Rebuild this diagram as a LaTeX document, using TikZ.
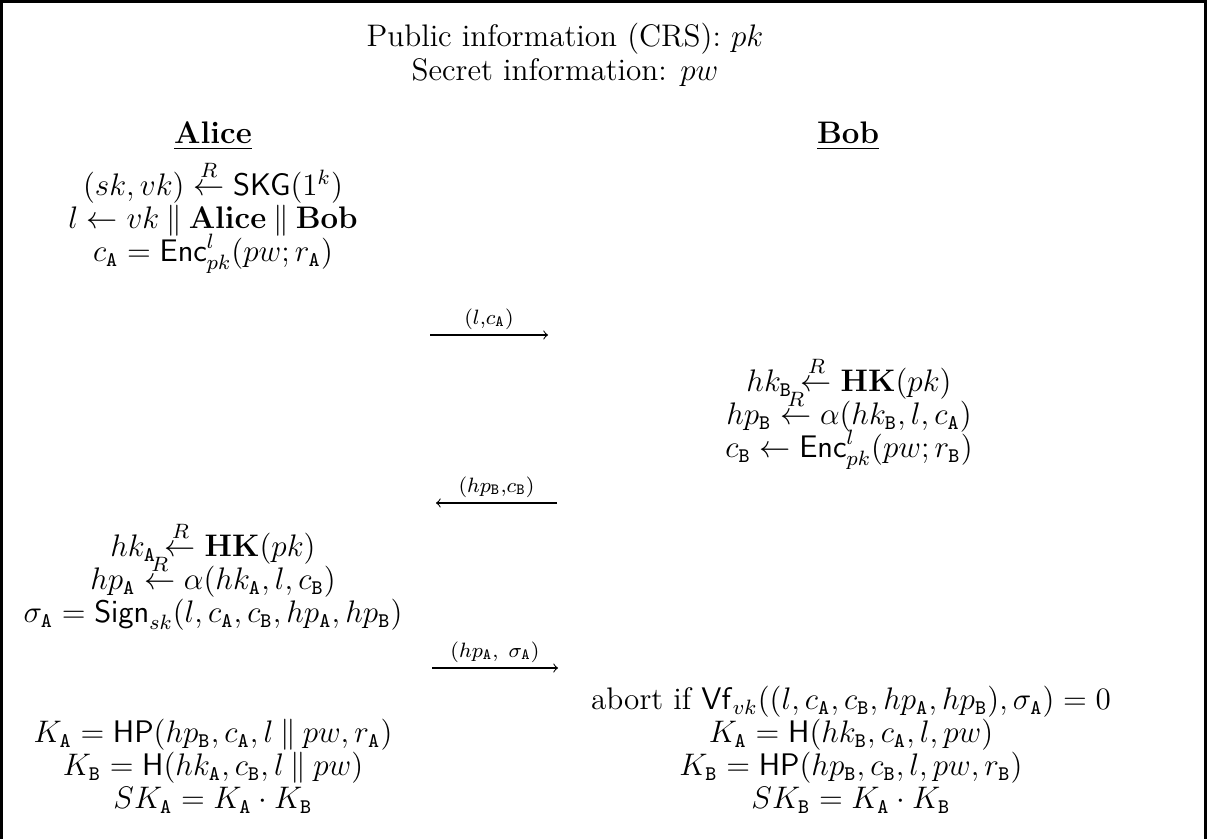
\documentclass[tikz,border=0pt]{standalone}
\usepackage{amsmath}
\usetikzlibrary{positioning}

\newcommand{\pA}{\mathtt{A}}
\newcommand{\pB}{\mathtt{B}}
\newcommand{\rgets}{\stackrel{R}{\leftarrow}}
\newcommand{\cat}{\mathbin{\|}}
\newcommand{\tightlines}{\lineskiplimit=-20pt\relax}

\begin{document}
\begin{tikzpicture}[
    x=0.385pt, y=-0.385pt,
    title/.style={inner sep=0pt, align=center, font=\fontsize{12}{13.5}\selectfont},
    party/.style={inner sep=0pt, font=\fontsize{12}{14}\selectfont\bfseries},
    block/.style={inner sep=0pt, align=center,
        font=\fontsize{12}{12.7}\selectfont\tightlines},
    msg/.style={above=1pt, inner sep=1pt, font=\fontsize{12}{14}\selectfont},
    arrow/.style={->}
]
    \useasboundingbox (0,0) rectangle (1207,839);
    \draw[line width=1.15pt] (1.5,839) -- (1.5,1.5) -- (1205.5,1.5) -- (1205.5,839);

    \node[title] (pub) at (565,39) {Public information (CRS): $pk$};
    \node[title] (sec) at (565,73) {Secret information: $pw$};

    \node[party] (alice) at (213,136) {\underline{Alice}};
    \node[party] (bob) at (848,136) {\underline{Bob}};

    % Alice, first flow
    \node[block] (a1) at (213,217) {$(sk,vk) \rgets \mathsf{SKG}(1^k)$\\
        $l \leftarrow vk \cat \mathbf{Alice} \cat \mathbf{Bob}$\\
        $c_\pA = \mathsf{Enc}^l_{pk}(pw;r_\pA)$};

    \coordinate (m1s) at (430,335);
    \coordinate (m1e) at (548,335);
    \draw[arrow] (m1s) -- node[msg] (m1) {$\scriptstyle (l,c_\pA)$} (m1e);

    % Bob, first flow
    \node[block] (b1) at (849,413) {$hk_\pB \rgets \mathbf{HK}(pk)$\\
        $hp_\pB \rgets \alpha(hk_\pB,l,c_\pA)$\\
        $c_\pB \leftarrow \mathsf{Enc}^l_{pk}(pw;r_\pB)$};

    \coordinate (m2s) at (557,503);
    \coordinate (m2e) at (436,503);
    \draw[arrow] (m2s) -- node[msg] (m2) {$\scriptstyle (hp_\pB,c_\pB)$} (m2e);

    % Alice, second flow
    \node[block] (a2) at (213,576) {$hk_\pA \rgets \mathbf{HK}(pk)$\\
        $hp_\pA \rgets \alpha(hk_\pA,l,c_\pB)$\\
        $\sigma_\pA = \mathsf{Sign}_{sk}(l,c_\pA,c_\pB,hp_\pA,hp_\pB)$};

    \coordinate (m3s) at (432,668);
    \coordinate (m3e) at (558,668);
    \draw[arrow] (m3s) -- node[msg] (m3) {$\scriptstyle (hp_\pA,\ \sigma_\pA)$} (m3e);

    % session keys
    \node[block] (b2) at (851,750) {abort if $\mathsf{Vf}_{vk}((l,c_\pA,c_\pB,hp_\pA,hp_\pB),\sigma_\pA) = 0$\\
        $K_\pA = \mathsf{H}(hk_\pB,c_\pA,l,pw)$\\
        $K_\pB = \mathsf{HP}(hp_\pB,c_\pB,l,pw,r_\pB)$\\
        $SK_\pB = K_\pA \cdot K_\pB$};
    \node[block] (a3) at (213,766) {$K_\pA = \mathsf{HP}(hp_\pB,c_\pA,l \cat pw,r_\pA)$\\
        $K_\pB = \mathsf{H}(hk_\pA,c_\pB,l \cat pw)$\\
        $SK_\pA = K_\pA \cdot K_\pB$};
\end{tikzpicture}
\end{document}
